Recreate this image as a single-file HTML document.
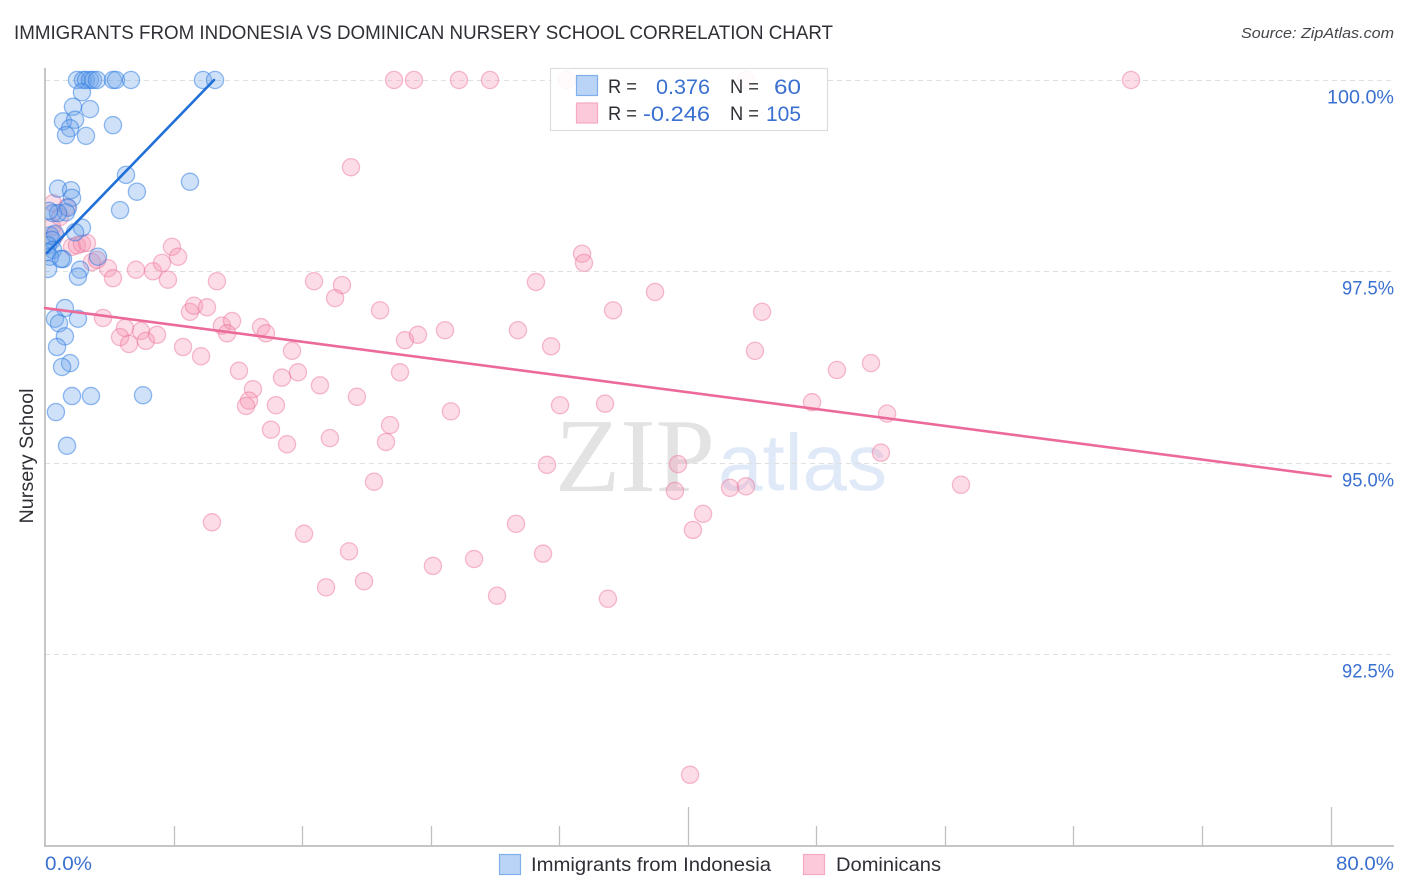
<!DOCTYPE html>
<html lang="en">
<head>
<meta charset="utf-8">
<title>Immigrants from Indonesia vs Dominican Nursery School Correlation Chart</title>
<style>
html,body{margin:0;padding:0;background:#fff;width:1406px;height:892px;overflow:hidden}
svg{display:block;font-family:"Liberation Sans",sans-serif}
</style>
</head>
<body>
<svg id="chart" width="1406" height="892" viewBox="0 0 1406 892">
  <defs>
    <clipPath id="plot-clip"><rect x="45" y="60" width="1349" height="786"/></clipPath>
  </defs>
  <text x="14" y="39" font-size="19.5" fill="#2f3036" textLength="819" lengthAdjust="spacingAndGlyphs">IMMIGRANTS FROM INDONESIA VS DOMINICAN NURSERY SCHOOL CORRELATION CHART</text>
  <text x="1394" y="38" font-size="15" font-style="italic" fill="#44464c" text-anchor="end" textLength="153" lengthAdjust="spacingAndGlyphs">Source: ZipAtlas.com</text>

  <g id="watermark">
    <text x="555" y="491" font-family="'Liberation Serif',serif" font-size="105" fill="#e3e3e3" textLength="160" lengthAdjust="spacingAndGlyphs">ZIP</text>
    <text x="718" y="490" font-size="80" fill="#dfe9f8" textLength="169" lengthAdjust="spacingAndGlyphs">atlas</text>
  </g>

  <g id="grid"></g>
  <g id="pink-points" clip-path="url(#plot-clip)"></g>
  <g id="blue-points" clip-path="url(#plot-clip)"></g>
  <g id="axes"></g>
  <g id="trends"></g>

  <g id="stats-legend">
    <rect x="550.5" y="68.5" width="277" height="62" fill="#fff" fill-opacity="0.88" stroke="#dddddd" stroke-width="1.2"/>
    <rect x="576.5" y="75.5" width="21" height="20" fill="#b9d4f6" stroke="#7fb0ec" stroke-width="1.2"/>
    <rect x="576.5" y="103" width="21" height="20" fill="#fcc9da" stroke="#f5a9c2" stroke-width="1.2"/>
    <g font-size="19.5" fill="#2f3036">
      <text x="608" y="93" textLength="29" lengthAdjust="spacingAndGlyphs">R =</text>
      <text x="608" y="120" textLength="29" lengthAdjust="spacingAndGlyphs">R =</text>
      <text x="730" y="93" textLength="29" lengthAdjust="spacingAndGlyphs">N =</text>
      <text x="730" y="120" textLength="29" lengthAdjust="spacingAndGlyphs">N =</text>
    </g>
    <g font-size="21" fill="#3a70d0">
      <text x="656" y="94" textLength="54" lengthAdjust="spacingAndGlyphs">0.376</text>
      <text x="643" y="121" textLength="67" lengthAdjust="spacingAndGlyphs">-0.246</text>
      <text x="774" y="94" textLength="27" lengthAdjust="spacingAndGlyphs">60</text>
      <text x="766" y="121" textLength="35" lengthAdjust="spacingAndGlyphs">105</text>
    </g>
  </g>

  <text transform="translate(33,456) rotate(-90)" font-size="19" fill="#2f3036" text-anchor="middle" textLength="135" lengthAdjust="spacingAndGlyphs">Nursery School</text>

  <g id="bottom-legend">
    <rect x="499.5" y="854.5" width="21" height="20" fill="#b9d4f6" stroke="#7fb0ec" stroke-width="1.2"/>
    <text x="531" y="871" font-size="19.5" fill="#2f3036" textLength="240" lengthAdjust="spacingAndGlyphs">Immigrants from Indonesia</text>
    <rect x="803.5" y="854.5" width="21" height="20" fill="#fcc9da" stroke="#f5a9c2" stroke-width="1.2"/>
    <text x="836" y="871" font-size="19.5" fill="#2f3036" textLength="105" lengthAdjust="spacingAndGlyphs">Dominicans</text>
  </g>
</svg>
<script>
var xTickValues = [0, 8, 16, 24, 32, 40, 48, 56, 64, 72, 80];
var xMajorTicks = [40, 80];
var xTickLabels = ['0.0%', '80.0%'];
var yTickValues = [100, 97.5, 95, 92.5];
var yTickLabels = ['100.0%', '97.5%', '95.0%', '92.5%'];

var blueX = [1.99,2.36,2.55,2.80,2.99,3.24,4.23,4.42,5.35,9.83,10.58,2.30,1.74,2.80,1.12,1.87,1.56,1.31,2.55,4.23,5.04,9.02,5.72,4.67,0.81,1.62,1.68,1.43,1.31,0.50,0.81,0.25,2.30,1.87,0.31,0.62,0.44,0.19,0.50,0.12,1.12,0.31,3.30,2.18,2.05,0.19,1.24,0.62,0.87,2.05,1.24,0.75,1.56,1.06,1.68,2.86,6.10,0.68,1.37,1.00];
var blueY = [100,100,100,100,100,100,100,100,100,100,100,99.84,99.65,99.62,99.46,99.48,99.37,99.28,99.27,99.41,98.76,98.67,98.54,98.30,98.58,98.56,98.46,98.33,98.27,98.26,98.26,98.29,98.07,98.01,97.97,97.99,97.91,97.84,97.78,97.75,97.66,97.69,97.69,97.52,97.43,97.53,97.02,96.88,96.82,96.88,96.65,96.51,96.30,96.25,95.87,95.87,95.88,95.66,95.22,97.66];

var pinkX = [21.72,22.96,25.76,27.69,32.48,43.62,67.58,19.04,0.50,1.37,0.93,0.44,0.62,1.68,1.99,2.30,2.61,2.92,3.24,3.92,4.23,5.66,6.72,7.28,7.90,8.28,7.65,10.70,3.61,4.98,4.67,5.97,5.23,6.28,6.97,8.59,9.71,9.02,9.27,10.08,11.01,11.64,11.33,13.44,13.75,12.07,12.94,12.69,12.51,14.37,14.06,15.06,14.75,15.74,17.11,15.37,16.74,18.48,18.05,20.85,22.40,23.21,24.89,29.43,31.49,22.09,19.41,21.47,25.26,32.05,34.85,17.73,21.22,31.24,20.47,10.39,16.12,18.92,17.49,19.85,24.14,26.70,28.13,29.31,30.99,35.03,30.55,33.42,33.54,35.35,37.96,44.62,44.18,49.28,51.40,47.73,52.40,52.02,57.00,39.39,39.20,42.63,43.62,40.95,40.32,40.14];
var pinkY = [100,100,100,100,100,100,100,98.86,98.39,98.34,98.21,98.08,97.97,97.82,97.84,97.86,97.87,97.62,97.65,97.54,97.41,97.52,97.50,97.61,97.82,97.69,97.39,97.37,96.89,96.76,96.64,96.72,96.55,96.59,96.67,96.51,96.39,96.97,97.05,97.03,96.79,96.85,96.69,96.77,96.69,96.20,95.96,95.81,95.74,95.75,95.43,95.24,96.11,96.18,96.01,96.46,97.37,97.32,97.15,96.99,96.60,96.67,96.73,96.73,96.52,96.18,95.86,95.49,95.67,95.75,95.77,95.32,95.27,94.97,94.75,94.22,94.07,93.84,93.37,93.45,93.65,93.74,93.26,94.20,93.81,93.22,97.36,97.73,97.61,96.99,97.23,96.97,96.46,96.21,96.30,95.79,95.64,95.13,94.71,94.98,94.63,94.67,94.69,94.33,94.12,90.92];

var blueTrendX = [0.12, 10.52];
var blueTrendY = [97.74, 100];
var pinkTrendX = [0, 80];
var pinkTrendY = [97.02, 94.82];

function xScale(v) { return 45 + v * 16.07; }
function yScale(v) { return 80 + (100 - v) * 76.52; }

var NS = 'http://www.w3.org/2000/svg';
function make(tag, attrs, parent) {
  var el = document.createElementNS(NS, tag);
  for (var k in attrs) { el.setAttribute(k, attrs[k]); }
  parent.appendChild(el);
  return el;
}

var grid = document.getElementById('grid');
var axes = document.getElementById('axes');

yTickValues.forEach(function (v, i) {
  var y = Math.round(yScale(v)) + 0.5;
  var line = make('line', {x1: 45, x2: 1394, y1: y, y2: y, stroke: '#e0e0e0', 'stroke-width': 1, 'stroke-dasharray': '5 4'}, grid);
  
  
  var wide = yTickLabels[i].length > 5;
  var label = make('text', {x: wide ? 1327 : 1342, y: y + 23, 'font-size': 19, fill: '#3a70d0', textLength: wide ? 67 : 52, lengthAdjust: 'spacingAndGlyphs'}, axes);
  label.textContent = yTickLabels[i];
  
  
});

var yAxisLine = make('line', {x1: 45, x2: 45, y1: 68, y2: 846.5, stroke: '#b4b4b4', 'stroke-width': 1.5}, axes);


var xAxisLine = make('line', {x1: 44, x2: 1394, y1: 846, y2: 846, stroke: '#b4b4b4', 'stroke-width': 1.5}, axes);



xTickValues.forEach(function (v) {
  if (v === 0) { return; }
  var top = xMajorTicks.indexOf(v) >= 0 ? 807 : 826;
  var x = Math.round(xScale(v)) + 0.5;
  var tick = make('line', {x1: x, x2: x, y1: top, y2: 846, stroke: '#c0c0c0', 'stroke-width': 1.3}, axes);
  
  
});

var xLabelLeft = make('text', {x: 45, y: 870, 'font-size': 19, fill: '#3a70d0', textLength: 47, lengthAdjust: 'spacingAndGlyphs'}, axes);
xLabelLeft.textContent = xTickLabels[0];


var xLabelRight = make('text', {x: 1336, y: 870, 'font-size': 19, fill: '#3a70d0', textLength: 58, lengthAdjust: 'spacingAndGlyphs'}, axes);
xLabelRight.textContent = xTickLabels[1];



var pinkGroup = document.getElementById('pink-points');
pinkX.forEach(function (v, i) {
  var c = make('circle', {cx: xScale(v), cy: yScale(pinkY[i]), r: 8.6, fill: 'rgba(246,150,180,0.33)', stroke: 'rgba(236,110,150,0.45)', 'stroke-width': 1.3}, pinkGroup);
  
  
});

var blueGroup = document.getElementById('blue-points');
blueX.forEach(function (v, i) {
  var c = make('circle', {cx: xScale(v), cy: yScale(blueY[i]), r: 8.6, fill: 'rgba(110,165,235,0.33)', stroke: 'rgba(40,120,225,0.5)', 'stroke-width': 1.3}, blueGroup);
  
  
});

var trends = document.getElementById('trends');
var pinkLine = make('line', {x1: xScale(pinkTrendX[0]), y1: yScale(pinkTrendY[0]), x2: xScale(pinkTrendX[1]), y2: yScale(pinkTrendY[1]), stroke: '#ec6a9a', 'stroke-width': 2.6, 'stroke-linecap': 'round'}, trends);


var blueLine = make('line', {x1: xScale(blueTrendX[0]), y1: yScale(blueTrendY[0]), x2: xScale(blueTrendX[1]), y2: yScale(blueTrendY[1]), stroke: '#2170d8', 'stroke-width': 2.6, 'stroke-linecap': 'round'}, trends);


</script>
</body>
</html>
